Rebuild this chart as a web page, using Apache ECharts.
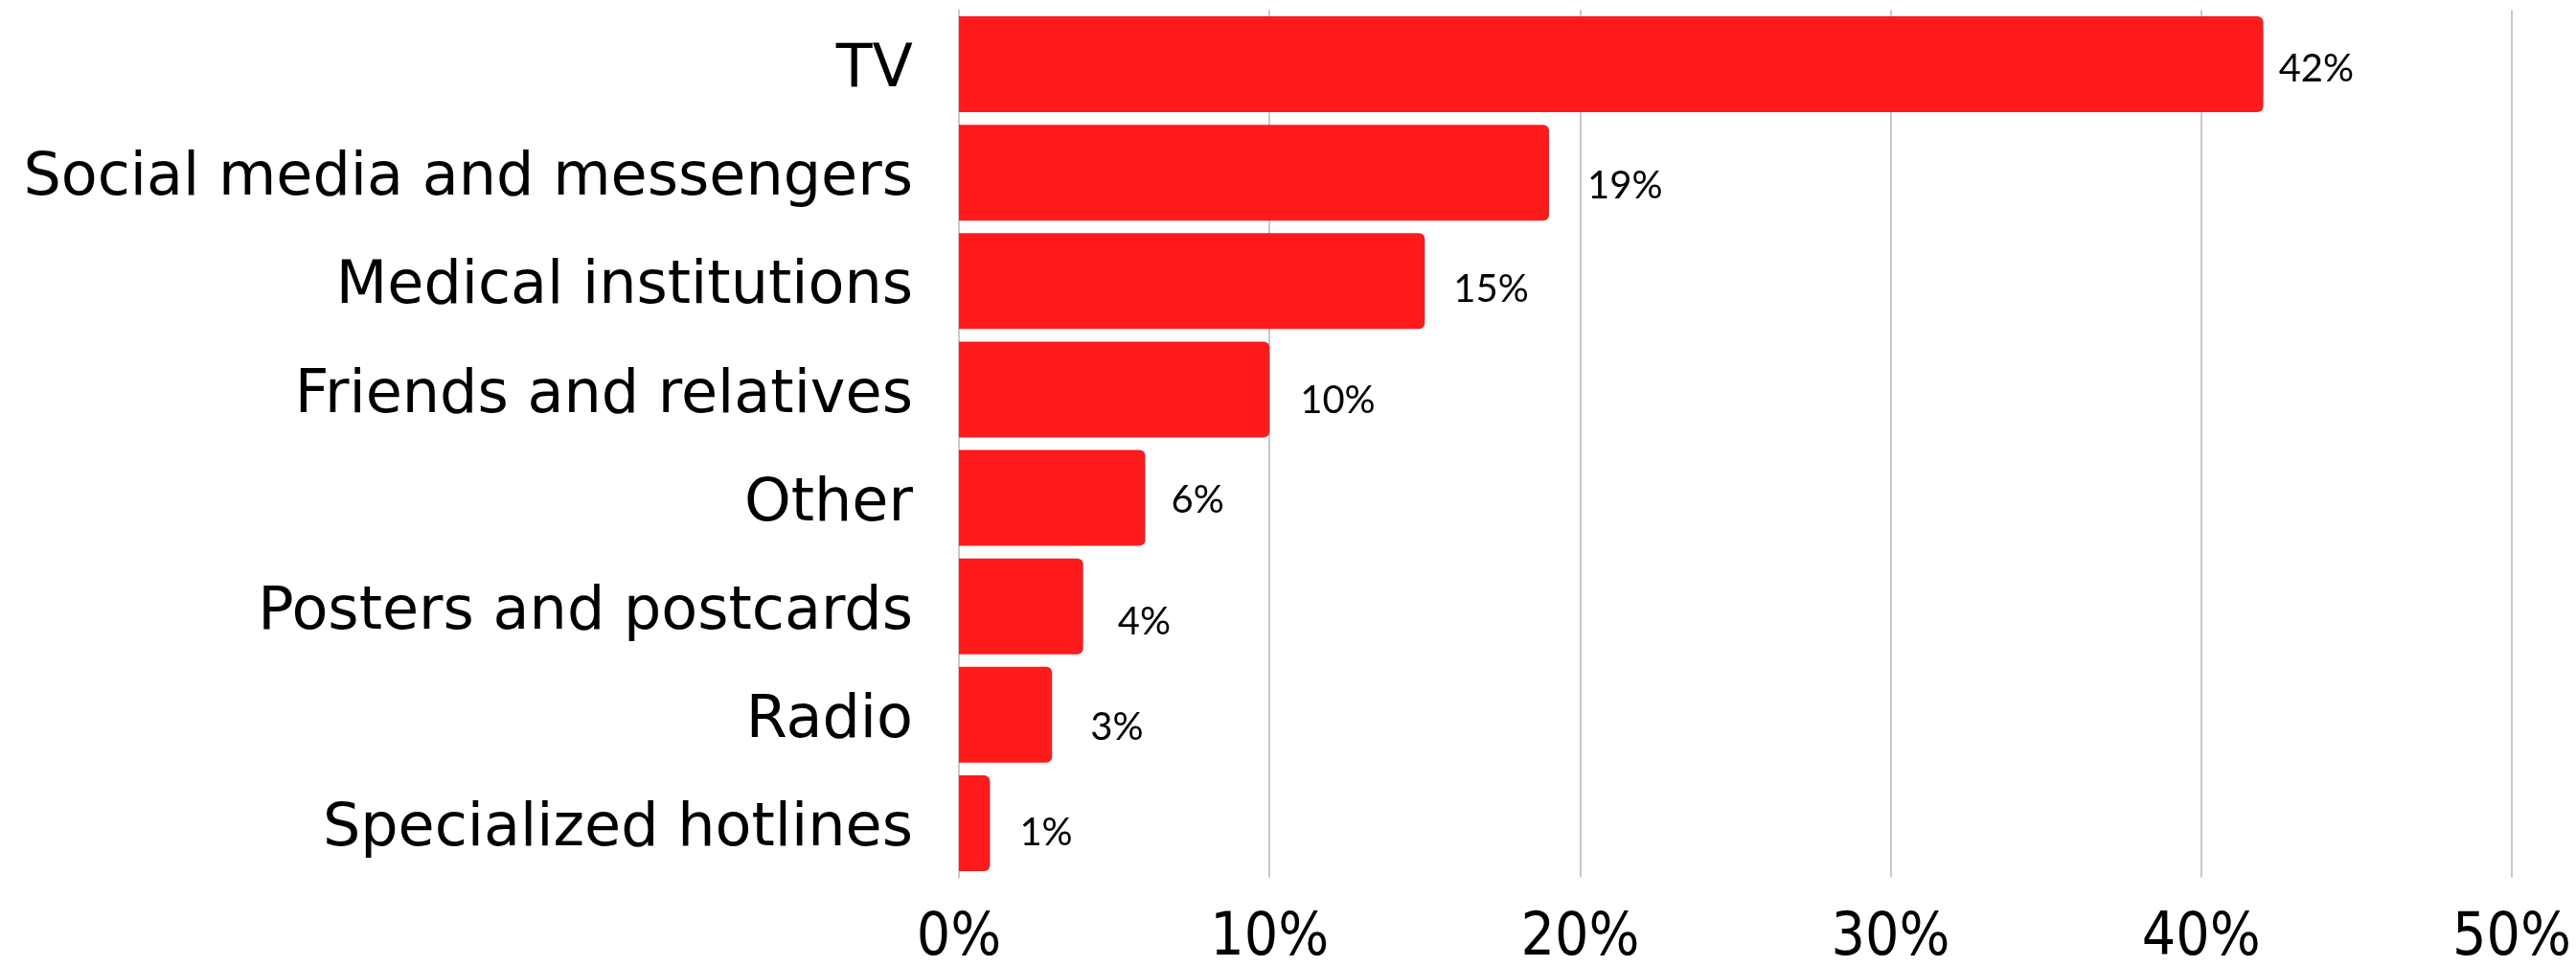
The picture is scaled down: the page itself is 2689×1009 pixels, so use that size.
<!DOCTYPE html>
<html>
<head>
<meta charset="utf-8">
<script src="https://cdn.jsdelivr.net/npm/echarts@6/dist/echarts.min.js"></script>
<style>
  html, body { margin: 0; padding: 0; background: #ffffff; }
  #chart { width: 2689px; height: 1009px; }
</style>
</head>
<body>
<div id="chart"></div>
<script>
// Sources of information, share of respondents (%)
const categories = [
  'TV',
  'Social media and messengers',
  'Medical institutions',
  'Friends and relatives',
  'Other',
  'Posters and postcards',
  'Radio',
  'Specialized hotlines'
];
const shares = [42, 19, 15, 10, 6, 4, 3, 1];
const tickLabels = ['0%', '10%', '20%', '30%', '40%', '50%'];

// small per-bar nudges for the value labels [dx, dy]
const labelNudge = [[-14, 5], [10, 14], [0, 9], [2, 12], [-3, 3], [6, 16], [10, 13], [1, 10]];

const chart = echarts.init(document.getElementById('chart'), null, { renderer: 'canvas' });

chart.setOption({
  animation: false,
  backgroundColor: '#ffffff',
  grid: { left: 1001, right: 67, top: 10.5, height: 905, outerBoundsMode: 'none', containLabel: false },
  xAxis: {
    type: 'value',
    min: 0,
    max: 50,
    interval: 10,
    axisLine: { show: false },
    axisTick: { show: false },
    splitLine: { show: true, lineStyle: { color: '#c9c9c9', width: 2 } },
    axisLabel: {
      margin: 33,
      color: '#000000',
      fontFamily: '"Liberation Sans Narrow", "DejaVu Sans Condensed", sans-serif',
      fontSize: 62,
      formatter: v => tickLabels[Math.round(v / 10)]
    }
  },
  yAxis: {
    type: 'category',
    data: categories,
    inverse: true,
    axisLine: { show: true, lineStyle: { color: '#c9c9c9', width: 2 } },
    axisTick: { show: false },
    axisLabel: {
      margin: 48,
      formatter: v => '{cat|' + v + '}',
      rich: {
        cat: {
          color: '#000000',
          fontFamily: '"DejaVu Sans", sans-serif',
          fontSize: 62,
          lineHeight: 72,
          padding: [14, 0, 0, 0]
        }
      }
    }
  },
  series: [{
    type: 'bar',
    barCategoryGap: '11.6%',
    itemStyle: { color: '#ff1a1c', borderRadius: [0, 6, 6, 0] },
    data: shares.map((v, i) => ({
      value: v,
      label: { offset: labelNudge[i] }
    })),
    label: {
      show: true,
      position: 'right',
      distance: 30,
      color: '#000000',
      fontFamily: 'Lato, "Noto Sans", sans-serif',
      fontSize: 40,
      formatter: p => p.value + '%'
    }
  }]
});
</script>
</body>
</html>
